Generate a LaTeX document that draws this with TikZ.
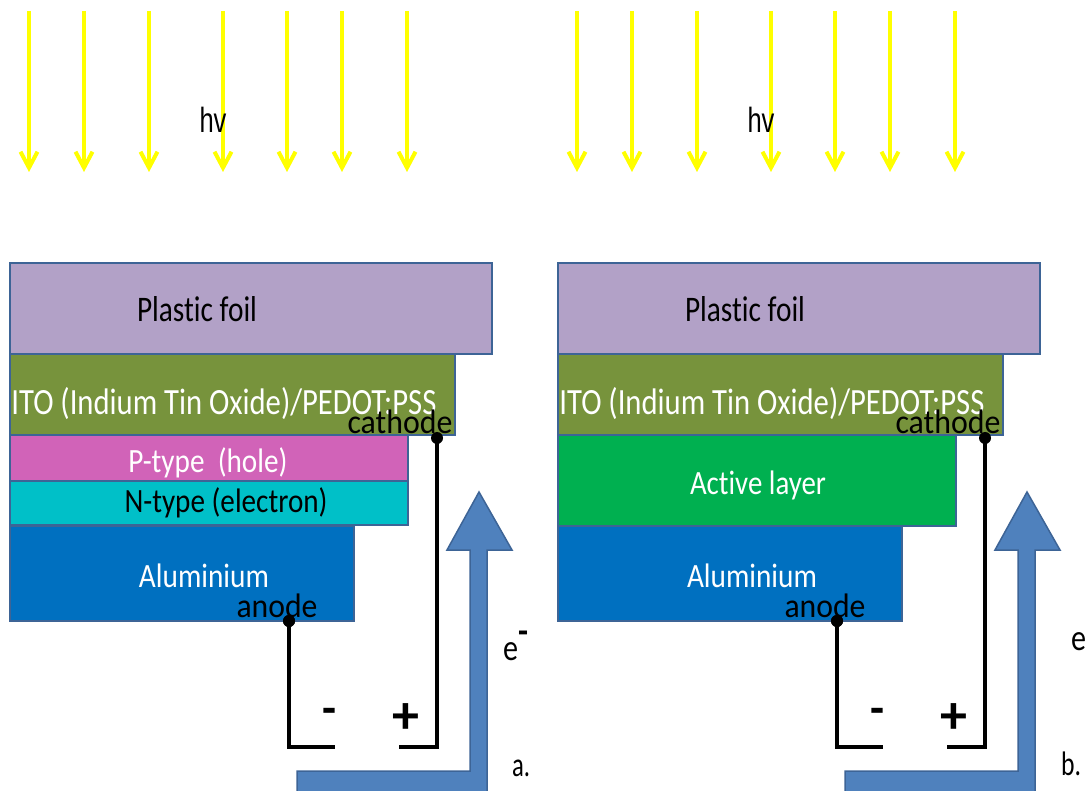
\documentclass[tikz,border=0pt]{standalone}
\usepackage{fontspec}
\setmainfont{Carlito}[Ligatures=NoCommon]
\newfontfamily\arialf{Liberation Sans}
\usepackage{graphicx}
\usetikzlibrary{arrows.meta}
\definecolor{foilc}{HTML}{B2A1C7}
\definecolor{itoc}{HTML}{77933C}
\definecolor{pc}{HTML}{D163B8}
\definecolor{nc}{HTML}{00C0C8}
\definecolor{alc}{HTML}{0070C0}
\definecolor{actc}{HTML}{00B050}
\definecolor{bordc}{HTML}{3D6496}
\definecolor{arrc}{HTML}{4F81BD}
\definecolor{yel}{HTML}{FFFF00}
\newcommand{\fitw}[2]{\resizebox{#1}{\height}{#2}}
\begin{document}
\begin{tikzpicture}[x=1pt,y=-1pt,
  layer/.style={draw=bordc,line width=2.8pt},
  ray/.style={draw=yel,line width=4pt,-{Straight Barb[length=16pt,width=17pt,line width=4pt]}},
  lbl/.style={anchor=base,inner sep=0pt},
  wire/.style={draw=black,line width=3.5pt},
  flow/.style={fill=arrc,draw=bordc,line width=1.5pt,line join=miter}]
\useasboundingbox (0,0) rectangle (1085,791);
\foreach \s/\p in {0/A,548/B}{
 \begin{scope}[xshift=\s pt]
  % light rays
  \foreach \rx [count=\i] in {29,84,149,223,287,342,407}{
    \coordinate (\p-r\i s) at (\rx,11);
    \coordinate (\p-r\i e) at (\rx,172);
    \draw[ray] (\p-r\i s) -- (\p-r\i e);
  }
  \node[lbl,font=\arialf\fontsize{35}{40}\selectfont] (\p-hv) at (213,133) {\fitw{27pt}{hv}};
  % layers
  \draw[layer,fill=foilc] (10,263) rectangle (492,354);
  \node[lbl,font=\fontsize{36}{40}\selectfont] (\p-foil) at (197,322) {\fitw{120pt}{Plastic foil}};
  \draw[layer,fill=itoc] (10,354) rectangle (455,435);
  \node[lbl,white,font=\fontsize{37}{40}\selectfont] (\p-ito) at (224,415) {\fitw{425pt}{ITO (Indium Tin Oxide)/PEDOT:PSS}};
  \draw[layer,fill=alc] (10,526) rectangle (354,621);
  \node[lbl,white,font=\fontsize{34}{40}\selectfont] (\p-al) at (204,587) {\fitw{130pt}{Aluminium}};
  % electrodes
  \node[lbl,font=\fontsize{34}{40}\selectfont] (\p-cath) at (400,434) {\fitw{105pt}{cathode}};
  \node[lbl,font=\fontsize{34}{40}\selectfont] (\p-an) at (277,617) {\fitw{81pt}{anode}};
  \coordinate (\p-cdot) at (437,438);
  \coordinate (\p-adot) at (289,621);
  \coordinate (\p-cend) at (399,747);
  \coordinate (\p-aend) at (335,747);
  \draw[wire] (\p-adot) |- (\p-aend);
  \draw[wire] (\p-cdot) |- (\p-cend);
  \fill (\p-cdot) circle (6);
  \fill (\p-adot) circle (6);
  \node[font=\bfseries\fontsize{48}{48}\selectfont,inner sep=0pt] (\p-minus) at (329,716) {\fitw{14pt}{-}};
  \node[font=\bfseries\fontsize{54}{54}\selectfont,inner sep=0pt] (\p-plus) at (406,719) {+};
  % electron flow arrow
  \draw[flow] (297,771) -- (470,771) -- (470,550) -- (447,550) -- (479,492)
     -- (512,550) -- (487,550) -- (487,795) -- (297,795) -- cycle;
 \end{scope}
}
% panel a specific
\draw[layer,fill=pc] (10,435) rectangle (408,481);
\node[lbl,white,font=\fontsize{34}{40}\selectfont] (A-p) at (208,473) {\fitw{159pt}{P-type\ \ (hole)}};
\draw[layer,fill=nc] (10,481) rectangle (408,525);
\node[lbl,font=\fontsize{34}{40}\selectfont] (A-n) at (226,512) {\fitw{203pt}{N-type (electron)}};
\node[anchor=base west,inner sep=0pt,font=\fontsize{37}{40}\selectfont] (A-e) at (503,660) {\fitw{15pt}{e}\raisebox{17pt}{\fitw{10pt}{\textbf{-}}}};
\node[anchor=base west,inner sep=0pt,font=\fontsize{34}{40}\selectfont] (A-lab) at (512,776) {\fitw{18pt}{a.}};
% panel b specific
\draw[layer,fill=actc] (558,435) rectangle (956,526);
\node[lbl,white,font=\fontsize{34}{40}\selectfont] (B-act) at (758,495) {\fitw{136pt}{Active layer}};
\node[anchor=base west,inner sep=0pt,font=\fontsize{37}{40}\selectfont] (B-e) at (1071,650) {\fitw{15pt}{e}\raisebox{17pt}{\fitw{10pt}{\textbf{-}}}};
\node[anchor=base west,inner sep=0pt,font=\fontsize{34}{40}\selectfont] (B-lab) at (1061,775) {\fitw{20pt}{b.}};
\foreach \p in {A,B}{\fill (\p-adot) circle (6);}
\end{tikzpicture}
\end{document}
